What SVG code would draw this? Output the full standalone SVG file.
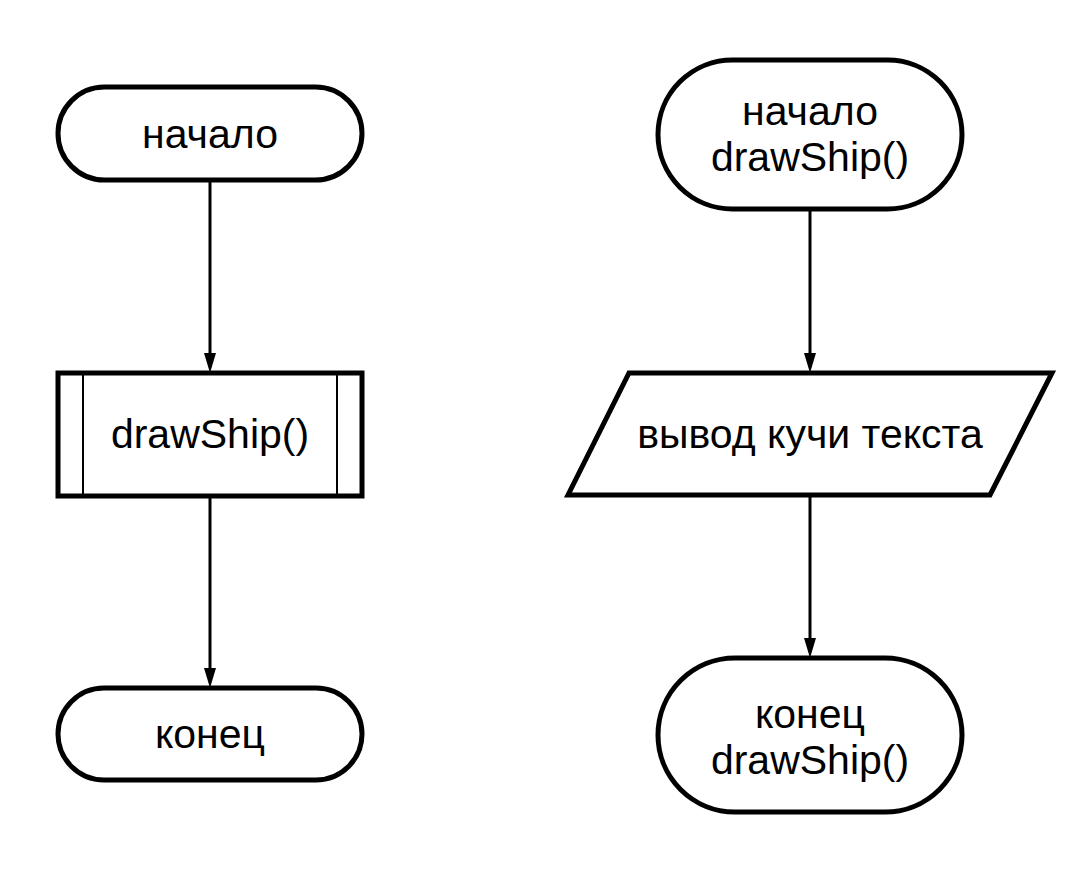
<svg xmlns="http://www.w3.org/2000/svg" width="1080" height="870" viewBox="0 0 1080 870">
<style>
.shape{fill:#fff;stroke:#000;stroke-width:5}
.inner{stroke:#000;stroke-width:2;fill:none}
.conn{stroke:#000;stroke-width:3;fill:none}
.head{fill:#000}
text{font-family:"Liberation Sans",Arial,sans-serif;font-size:41px;fill:#000;text-anchor:middle}
</style>
<rect width="1080" height="870" fill="#fff"/>
<g id="connectors">
<line class="conn" x1="210" y1="180" x2="210" y2="353"/>
<path class="head" d="M204,353 L216,353 L210,373 Z"/>
<line class="conn" x1="210" y1="496" x2="210" y2="668"/>
<path class="head" d="M204,668 L216,668 L210,688 Z"/>
<line class="conn" x1="810" y1="209" x2="810" y2="353"/>
<path class="head" d="M804,353 L816,353 L810,373 Z"/>
<line class="conn" x1="810" y1="495" x2="810" y2="638"/>
<path class="head" d="M804,638 L816,638 L810,658 Z"/>
</g>
<g id="start-left">
<rect class="shape" x="58" y="87" width="304" height="93" rx="46.5"/>
<text x="210" y="148">начало</text>
</g>
<g id="sub-left">
<rect class="shape" x="58" y="373" width="304" height="123"/>
<line class="inner" x1="83" y1="373" x2="83" y2="496"/>
<line class="inner" x1="337" y1="373" x2="337" y2="496"/>
<text x="210" y="448">drawShip()</text>
</g>
<g id="end-left">
<rect class="shape" x="58" y="688" width="304" height="92" rx="46"/>
<text x="210" y="748">конец</text>
</g>
<g id="start-right">
<rect class="shape" x="658" y="60" width="304" height="149" rx="74.5"/>
<text x="810" y="125">начало</text>
<text x="810" y="171">drawShip()</text>
</g>
<g id="io-right">
<polygon class="shape" points="629,373 1052,373 990,495 568,495"/>
<text x="810" y="448">вывод кучи текста</text>
</g>
<g id="end-right">
<rect class="shape" x="658" y="658" width="304" height="154" rx="77"/>
<text x="810" y="728">конец</text>
<text x="810" y="774">drawShip()</text>
</g>
</svg>
